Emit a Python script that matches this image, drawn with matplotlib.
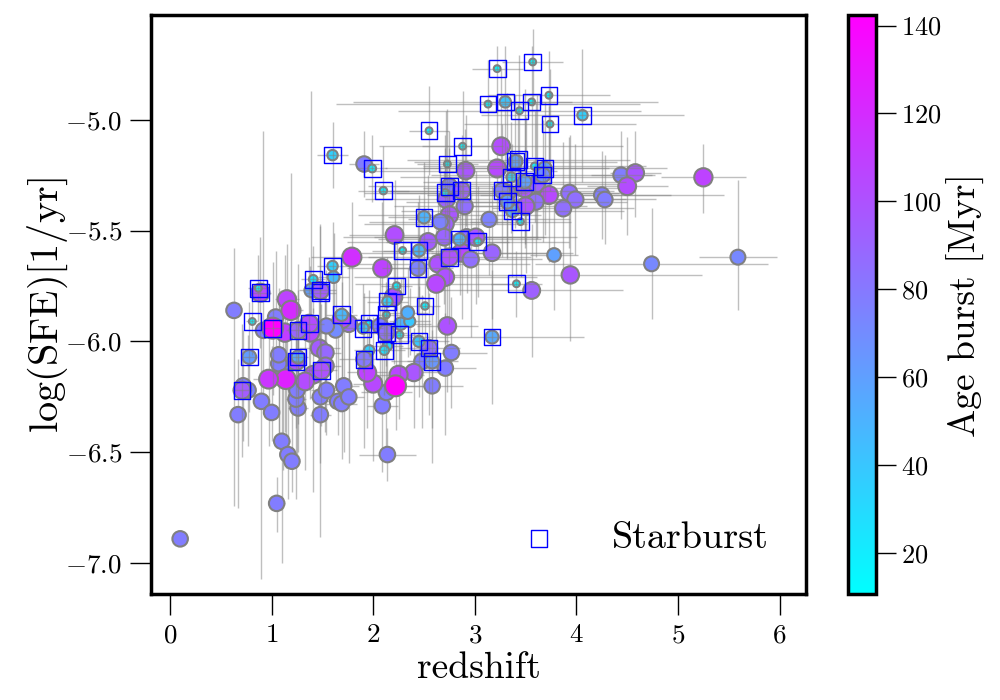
import matplotlib
matplotlib.use('Agg')
import matplotlib.pyplot as plt

plt.rcParams['font.family'] = ['cmr10', 'DejaVu Sans']
plt.rcParams['mathtext.fontset'] = 'cm'
plt.rcParams['axes.formatter.use_mathtext'] = True
plt.rcParams['axes.unicode_minus'] = False

# normal galaxies
z = [0.10, 0.63, 1.05, 2.14, 1.10, 1.16, 1.20, 0.67, 0.90, 1.00,
     1.26, 1.24, 1.25, 1.48, 1.48, 1.54, 1.71, 1.65, 1.69, 1.76,
     2.09, 2.13, 2.58, 2.71, 2.77, 2.73, 2.48, 2.40, 2.25, 2.00,
     1.94, 1.96, 2.14, 2.27, 2.36, 2.34, 2.20, 2.07, 1.76, 1.69,
     1.63, 1.54, 1.47, 1.53, 1.53, 1.41, 1.33, 0.77, 0.72, 1.11,
     1.07, 1.07, 1.04, 0.92, 1.13, 1.38, 1.15, 1.39, 1.61, 1.91,
     1.79, 2.09, 2.21, 2.91, 2.72, 2.90, 2.75, 2.71, 2.66, 2.70,
     2.54, 2.92, 3.01, 2.87, 2.64, 2.96, 2.71, 2.62, 3.26, 3.22,
     3.49, 3.61, 3.32, 3.73, 3.93, 3.99, 3.87, 3.60, 3.50, 4.25,
     4.28, 4.44, 4.58, 4.50, 5.25, 3.14, 3.17, 3.78, 3.94, 4.74,
     5.59, 3.56, 1.19, 1.14, 0.97, 2.22]
sfe = [-6.89, -5.86, -6.73, -6.51, -6.45, -6.51, -6.54, -6.33, -6.27, -6.32,
       -6.30, -6.26, -6.22, -6.33, -6.25, -6.22, -6.20, -6.27, -6.28, -6.25,
       -6.29, -6.23, -6.20, -6.12, -6.05, -5.93, -6.09, -6.14, -6.15, -6.19,
       -6.14, -6.04, -6.02, -5.92, -5.91, -5.87, -5.80, -5.93, -5.92, -5.90,
       -5.95, -5.93, -6.03, -6.05, -6.11, -6.15, -6.18, -6.22, -6.20, -6.13,
       -6.10, -6.06, -5.89, -5.95, -5.96, -5.96, -5.81, -5.77, -5.71, -5.20,
       -5.62, -5.67, -5.52, -5.23, -5.36, -5.39, -5.43, -5.47, -5.46, -5.53,
       -5.55, -5.53, -5.53, -5.60, -5.65, -5.63, -5.71, -5.74, -5.12, -5.22,
       -5.31, -5.29, -5.33, -5.34, -5.33, -5.36, -5.40, -5.37, -5.39, -5.34,
       -5.36, -5.25, -5.24, -5.30, -5.26, -5.45, -5.60, -5.61, -5.70, -5.65,
       -5.62, -5.77, -5.86, -6.17, -6.17, -6.20]
age = [78, 78, 78, 78, 78, 78, 78, 78, 78, 78,
       78, 78, 78, 78, 78, 78, 78, 78, 78, 78,
       78, 78, 78, 78, 78, 100, 78, 98, 105, 105,
       108, 35, 30, 50, 40, 52, 100, 78, 90, 105,
       70, 75, 95, 88, 90, 102, 103, 75, 78, 78,
       78, 78, 78, 78, 110, 105, 108, 60, 45, 78,
       118, 108, 102, 98, 92, 85, 98, 92, 75, 90,
       95, 85, 98, 105, 100, 85, 100, 105, 103, 105,
       100, 92, 85, 105, 85, 85, 85, 85, 100, 78,
       78, 78, 98, 103, 108, 75, 90, 60, 98, 72,
       72, 92, 120, 125, 115, 142]
z_err = [0.03, 0.05, 0.08, 0.28, 0.08, 0.08, 0.08, 0.05, 0.06, 0.06,
         0.10, 0.10, 0.10, 0.10, 0.10, 0.15, 0.15, 0.15, 0.15, 0.15,
         0.15, 0.25, 0.30, 0.30, 0.35, 0.30, 0.30, 0.25, 0.25, 0.20,
         0.20, 0.15, 0.15, 0.30, 0.20, 0.20, 0.30, 0.20, 0.25, 0.20,
         0.15, 0.15, 0.20, 0.15, 0.15, 0.15, 0.15, 0.08, 0.08, 0.08,
         0.08, 0.08, 0.08, 0.06, 0.15, 0.20, 0.12, 0.12, 0.15, 0.15,
         0.40, 0.35, 0.45, 0.90, 0.80, 0.70, 0.90, 0.80, 0.70, 1.00,
         0.80, 0.70, 1.00, 1.10, 0.90, 0.70, 0.90, 0.80, 1.20, 1.10,
         1.00, 0.90, 1.10, 1.20, 0.50, 0.50, 0.70, 0.90, 0.60, 1.20,
         0.50, 0.30, 0.25, 0.40, 0.42, 0.80, 0.60, 0.24, 1.30, 1.15,
         0.38, 0.90, 0.12, 0.15, 0.15, 0.30]
sfe_lo = [0.03, 0.88, 0.13, 0.12, 0.55, 0.20, 0.14, 0.42, 0.80, 0.13,
          0.20, 0.45, 0.30, 0.55, 0.30, 0.20, 0.30, 0.15, 0.25, 0.30,
          0.30, 0.30, 0.35, 0.30, 0.25, 0.30, 0.30, 0.25, 0.20, 0.35,
          0.25, 0.15, 0.15, 0.20, 0.15, 0.20, 0.30, 0.25, 0.30, 0.30,
          0.25, 0.25, 0.30, 0.30, 0.30, 0.53, 0.40, 0.25, 0.25, 0.45,
          0.35, 0.40, 0.30, 0.30, 0.45, 0.30, 0.30, 0.25, 0.20, 0.15,
          0.25, 0.35, 0.25, 0.25, 0.25, 0.25, 0.30, 0.25, 0.25, 0.30,
          0.30, 0.25, 0.30, 0.30, 0.30, 0.35, 0.30, 0.30, 0.25, 0.25,
          0.25, 0.25, 0.30, 0.30, 0.25, 0.25, 0.30, 0.25, 0.30, 0.20,
          0.20, 0.20, 0.20, 0.22, 0.16, 0.25, 0.30, 0.25, 0.30, 0.25,
          0.24, 0.30, 0.30, 0.40, 0.30, 0.20]
sfe_hi = [0.03, 0.28, 0.12, 0.12, 0.30, 0.30, 0.40, 0.25, 0.30, 0.30,
          0.35, 0.30, 0.40, 0.30, 0.25, 0.20, 0.30, 0.30, 0.25, 0.30,
          0.30, 0.25, 0.25, 0.25, 0.25, 0.30, 0.30, 0.20, 0.20, 0.30,
          0.25, 0.15, 0.15, 0.20, 0.15, 0.20, 0.25, 0.25, 0.30, 0.30,
          0.30, 0.25, 0.30, 0.25, 0.30, 0.30, 0.30, 0.25, 0.25, 0.30,
          0.30, 0.30, 0.30, 0.90, 0.35, 0.30, 0.25, 0.90, 0.20, 0.15,
          0.25, 0.30, 0.25, 0.25, 0.40, 0.35, 0.30, 0.40, 0.25, 0.30,
          0.30, 0.35, 0.30, 0.40, 0.30, 0.30, 0.30, 0.30, 0.35, 0.30,
          0.45, 0.40, 0.45, 0.40, 0.25, 0.25, 0.30, 0.45, 0.40, 0.20,
          0.20, 0.20, 0.19, 0.22, 0.15, 0.25, 0.30, 0.25, 0.63, 0.25,
          0.35, 0.30, 0.62, 0.25, 0.25, 0.20]

# starbursts
sb_z = [2.58, 2.55, 2.45, 1.91, 2.11, 2.13, 2.26, 2.51, 2.23, 2.14,
        2.13, 1.96, 1.90, 1.69, 1.49, 0.71, 1.24, 1.26, 0.78, 1.01,
        1.26, 1.37, 0.81, 0.89, 0.87, 1.41, 1.48, 1.48, 1.60, 1.60,
        1.99, 2.10, 2.29, 2.45, 2.44, 2.50, 2.55, 2.73, 2.88, 2.75,
        2.71, 2.87, 2.85, 3.03, 2.75, 3.22, 3.57, 3.13, 3.30, 3.44,
        3.56, 3.73, 3.74, 4.06, 3.43, 3.40, 3.59, 3.69, 3.67, 3.36,
        3.49, 3.27, 3.37, 3.32, 3.45, 3.41, 3.17]
sb_sfe = [-6.09, -6.03, -6.00, -6.08, -6.04, -5.96, -5.97, -5.84, -5.75, -5.82,
          -5.88, -5.92, -5.94, -5.88, -6.13, -6.22, -6.09, -6.07, -6.07, -5.94,
          -5.95, -5.92, -5.91, -5.78, -5.76, -5.72, -5.78, -5.77, -5.66, -5.16,
          -5.22, -5.32, -5.59, -5.59, -5.67, -5.44, -5.05, -5.20, -5.12, -5.30,
          -5.33, -5.32, -5.54, -5.55, -5.62, -4.77, -4.74, -4.93, -4.92, -4.96,
          -4.92, -4.89, -5.02, -4.98, -5.18, -5.19, -5.21, -5.22, -5.25, -5.26,
          -5.28, -5.32, -5.41, -5.37, -5.46, -5.74, -5.98]
sb_age = [65, 85, 40, 80, 28, 85, 18, 18, 18, 35,
          15, 18, 40, 48, 100, 95, 100, 55, 62, 142,
          90, 103, 15, 105, 15, 25, 60, 95, 35, 35,
          20, 18, 15, 48, 75, 50, 15, 15, 15, 78,
          18, 92, 50, 18, 100, 15, 15, 15, 42, 15,
          15, 15, 15, 35, 18, 60, 18, 60, 70, 32,
          60, 78, 55, 62, 15, 15, 55]
sb_z_err = [0.25, 0.30, 0.30, 0.25, 0.20, 0.20, 0.20, 0.15, 0.15, 0.20,
            0.15, 0.15, 0.20, 0.15, 0.15, 0.10, 0.10, 0.10, 0.08, 0.10,
            0.12, 0.15, 0.06, 0.10, 0.10, 0.12, 0.15, 0.15, 0.15, 0.15,
            0.15, 0.25, 0.30, 0.35, 0.35, 0.35, 0.20, 0.30, 0.40, 0.80,
            0.80, 0.80, 0.80, 0.90, 0.80, 0.25, 0.30, 1.50, 1.50, 1.20,
            0.40, 0.60, 0.85, 1.00, 1.10, 1.00, 1.10, 1.20, 1.10, 1.10,
            1.00, 1.10, 1.10, 1.00, 0.50, 0.25, 0.90]
sb_sfe_lo = [0.30, 0.30, 0.25, 0.40, 0.20, 0.15, 0.20, 0.20, 0.20, 0.20,
             0.15, 0.15, 0.20, 0.15, 0.25, 0.30, 0.30, 0.30, 0.25, 0.30,
             0.30, 0.30, 0.15, 0.25, 0.15, 0.15, 0.30, 0.30, 0.20, 0.15,
             0.15, 0.20, 0.20, 0.25, 0.30, 0.25, 0.20, 0.25, 0.25, 0.25,
             0.20, 0.25, 0.25, 0.25, 0.30, 0.20, 0.20, 0.25, 0.30, 0.30,
             0.25, 0.30, 0.30, 0.30, 0.25, 0.30, 0.25, 0.30, 0.30, 0.25,
             0.30, 0.30, 0.30, 0.25, 0.25, 0.15, 0.30]
sb_sfe_hi = [0.25, 0.25, 0.25, 0.30, 0.20, 0.15, 0.20, 0.20, 0.20, 0.20,
             0.15, 0.15, 0.20, 0.15, 0.30, 0.30, 0.30, 0.30, 0.25, 0.30,
             0.30, 0.30, 0.15, 0.25, 0.15, 0.15, 0.30, 0.30, 0.20, 0.15,
             0.15, 0.20, 0.20, 0.25, 0.30, 0.25, 0.20, 0.25, 0.25, 0.25,
             0.20, 0.25, 0.25, 0.25, 0.30, 0.10, 0.15, 0.20, 0.25, 0.25,
             0.25, 0.20, 0.25, 0.30, 0.25, 0.30, 0.25, 0.30, 0.25, 0.25,
             0.30, 0.30, 0.30, 0.25, 0.25, 0.15, 0.30]

age_min = 10.7
age_max = 142.3

fig = plt.figure(figsize=(10, 7), dpi=100)
ax = fig.add_axes([0.151, 0.151, 0.655, 0.827])
cax = fig.add_axes([0.848, 0.151, 0.028, 0.827])

ax.errorbar(z, sfe, xerr=z_err, yerr=[sfe_lo, sfe_hi], fmt='none', ecolor='gray', elinewidth=1, alpha=0.5, zorder=1)
ax.errorbar(sb_z, sb_sfe, xerr=sb_z_err, yerr=[sb_sfe_lo, sb_sfe_hi], fmt='none', ecolor='gray', elinewidth=1, alpha=0.5, zorder=4)

sc = ax.scatter(z, sfe, c=age, s=[1.6 * a for a in age], cmap='cool', vmin=age_min, vmax=age_max, edgecolors='gray', linewidths=1.5, zorder=2)
ax.scatter(sb_z, sb_sfe, c=sb_age, s=[1.6 * a for a in sb_age], cmap='cool', vmin=age_min, vmax=age_max, edgecolors='gray', linewidths=1.5, zorder=3)
squares = ax.scatter(sb_z, sb_sfe, s=145, marker='s', facecolors='none', edgecolors='blue', linewidths=1, zorder=5, label='Starburst')

ax.set_xlim(-0.187, 6.26)
ax.set_ylim(-7.14, -4.53)
ax.set_xticks([0, 1, 2, 3, 4, 5, 6])
ax.set_yticks([-7, -6.5, -6, -5.5, -5])
ax.set_yticklabels(['$-7.0$', '$-6.5$', '$-6.0$', '$-5.5$', '$-5.0$'])
ax.set_xticklabels(['$0$', '$1$', '$2$', '$3$', '$4$', '$5$', '$6$'])
ax.set_xlabel('redshift', fontsize=27, labelpad=3)
ax.set_ylabel(r'$\log(\mathrm{SFE})[1/\mathrm{yr}]$', fontsize=29, labelpad=-3)
ax.tick_params(axis='both', length=15, width=1, labelsize=19.5, pad=6)
for s in ax.spines.values():
    s.set_linewidth(2.5)

ax.legend(handles=[squares], loc='lower right', frameon=False, fontsize=27.5, bbox_to_anchor=(0.995, 0.008), handletextpad=0.9, markerscale=1.0)

cb = fig.colorbar(sc, cax=cax)
cb.set_ticks([20, 40, 60, 80, 100, 120, 140])
cb.set_ticklabels(['$20$', '$40$', '$60$', '$80$', '$100$', '$120$', '$140$'])
cb.ax.tick_params(length=14.4, width=1, labelsize=19, pad=3.5)
cb.set_label('Age burst [Myr]', fontsize=27, labelpad=4)
cb.outline.set_linewidth(2.5)

fig.savefig('out.png', dpi=100)
